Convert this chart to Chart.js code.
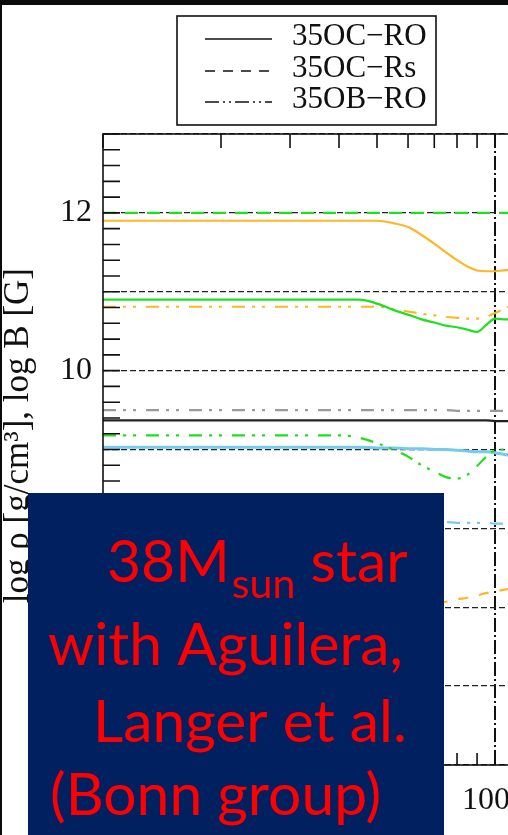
<!DOCTYPE html>
<html>
<head>
<meta charset="utf-8">
<script src="https://cdn.jsdelivr.net/npm/chart.js@4.4.0/dist/chart.umd.min.js"></script>
<style>
html, body { margin: 0; padding: 0; background: #0b0b0b; overflow: hidden; width: 508px; height: 835px; }
#wrap { position: absolute; left: 0; top: 0; width: 900px; height: 835px; }
</style>
</head>
<body>
<div id="wrap"><canvas id="chart" width="900" height="835"></canvas></div>
<script>
// x positions (log axis) shared by every curve
const xValues = [10, 20, 30, 40, 45, 50, 55, 60, 65, 70, 75, 80, 85, 90, 95, 100, 105, 110, 120];

// curves (log values)
const orangeSolid   = [11.9, 11.9, 11.9, 11.9, 11.9, 11.9, 11.87, 11.82, 11.72, 11.61, 11.5, 11.4, 11.32, 11.27, 11.26, 11.26, 11.27, 11.28, 11.3];
const greenDashed   = [12, 12, 12, 12, 12, 12, 12, 12, 12, 12, 12, 12, 12, 12, 12, 12, 12, 12, 12];
const greenSolid    = [10.9, 10.9, 10.9, 10.9, 10.9, 10.85, 10.77, 10.71, 10.65, 10.61, 10.57, 10.55, 10.52, 10.49, 10.58, 10.66, 10.65, 10.65, 10.65];
const orangeDashDot = [10.81, 10.81, 10.81, 10.81, 10.81, 10.81, 10.78, 10.75, 10.72, 10.7, 10.68, 10.67, 10.66, 10.66, 10.68, 10.73, 10.78, 10.82, 10.88];
const greyDashDot   = [9.5, 9.5, 9.5, 9.5, 9.5, 9.5, 9.5, 9.5, 9.5, 9.5, 9.5, 9.49, 9.49, 9.49, 9.49, 9.49, 9.49, 9.49, 9.49];
const blackSolid    = [9.37, 9.37, 9.37, 9.37, 9.37, 9.37, 9.37, 9.37, 9.37, 9.37, 9.37, 9.37, 9.37, 9.37, 9.37, 9.36, 9.36, 9.36, 9.36];
const greenDashDot  = [9.18, 9.18, 9.18, 9.18, 9.15, 9.08, 9.0, 8.91, 8.8, 8.72, 8.65, 8.63, 8.68, 8.79, 8.91, 8.99, 9.0, 9.0, 9.0];
const blueSolid     = [9.03, 9.03, 9.03, 9.03, 9.03, 9.02, 9.02, 9.01, 9.01, 9.0, 9.0, 8.99, 8.98, 8.97, 8.97, 8.96, 8.94, 8.92, 8.9];
const blueDashDot   = [8.08, 8.08, 8.08, 8.08, 8.08, 8.08, 8.08, 8.08, 8.08, 8.08, 8.08, 8.07, 8.07, 8.07, 8.07, 8.06, 8.06, 8.06, 8.06];
const orangeDashed  = [6.7, 6.8, 6.85, 6.9, 6.93, 6.96, 6.98, 7.0, 7.02, 7.04, 7.07, 7.1, 7.12, 7.15, 7.18, 7.2, 7.22, 7.24, 7.28];

// legend (line styles only)
const legendLabels = ['35OC\u2212RO', '35OC\u2212Rs', '35OB\u2212RO'];
const legendDashes = [[], [10, 8], [14, 4, 2, 4, 2, 4]];

// tick labels and axis title
const yLabels = [6, 8, 10, 12];
const xLabels = [10, 100];
const xGridAt = [100];
const yTitle = 'log \u03c1 [g/cm\u00b3], log B [G]';

const GREEN = '#1fe01f';
const ORANGE = '#ffb526';
const BLUE = '#74cbef';
const DDD = [13, 7, 3, 7, 3, 10];

function pts(series) {
    return xValues.map((x, i) => ({ x: x, y: series[i] }));
}

function line(label, series, color, dash, width) {
    return {
        label: label,
        data: pts(series),
        borderColor: color,
        borderWidth: width || 2.2,
        borderDash: dash || [],
        pointRadius: 0,
        cubicInterpolationMode: 'monotone',
        fill: false
    };
}

const serif = 'Liberation Serif';

// frame, inward ticks, axis title, legend box, overlay text box
const decorPlugin = {
    id: 'decor',
    beforeDraw(chart) {
        const ctx = chart.ctx;
        ctx.save();
        ctx.fillStyle = '#0b0b0b';
        ctx.fillRect(0, 0, chart.width, chart.height);
        ctx.fillStyle = '#ffffff';
        ctx.fillRect(2, 5, chart.width - 2, chart.height - 5);
        ctx.restore();
    },
    afterDraw(chart) {
        const ctx = chart.ctx;
        const a = chart.chartArea;
        const x = chart.scales.x;
        const y = chart.scales.y;
        ctx.save();

        // plot frame + inward ticks
        ctx.strokeStyle = '#111';
        ctx.lineWidth = 1.6;
        ctx.strokeRect(a.left, a.top, a.right - a.left, a.bottom - a.top);
        ctx.beginPath();
        y.ticks.forEach(t => {
            const py = y.getPixelForValue(t.value);
            ctx.moveTo(a.left, py);
            ctx.lineTo(a.left + 17, py);
        });
        x.ticks.forEach(t => {
            const px = x.getPixelForValue(t.value);
            ctx.moveTo(px, a.top);
            ctx.lineTo(px, a.top + 14);
            ctx.moveTo(px, a.bottom);
            ctx.lineTo(px, a.bottom - 12);
        });
        ctx.stroke();

        // y axis title (rotated)
        ctx.font = '35px "' + serif + '"';
        ctx.fillStyle = '#111';
        const tw = ctx.measureText(yTitle).width;
        ctx.save();
        ctx.translate(19, 268 + tw / 2);
        ctx.rotate(-Math.PI / 2);
        ctx.textAlign = 'center';
        ctx.textBaseline = 'middle';
        ctx.fillText(yTitle, 0, 0);
        ctx.restore();

        // legend
        ctx.fillStyle = '#fff';
        ctx.fillRect(177, 16, 259, 109);
        ctx.strokeRect(177, 16, 259, 109);
        ctx.font = '31px "' + serif + '"';
        ctx.fillStyle = '#111';
        ctx.textBaseline = 'alphabetic';
        const rowBase = [45, 77, 108];
        legendLabels.forEach((lab, i) => {
            ctx.setLineDash(legendDashes[i]);
            ctx.lineWidth = 1.5;
            ctx.beginPath();
            ctx.moveTo(205, rowBase[i] - 6);
            ctx.lineTo(272, rowBase[i] - 6);
            ctx.stroke();
            ctx.fillText(lab, 292, rowBase[i]);
        });
        ctx.setLineDash([]);

        // overlay box
        ctx.fillStyle = '#002060';
        ctx.fillRect(28, 493, 416, 342);
        ctx.font = '100px Lato';
        const fs = 100 * 355 / ctx.measureText('with Aguilera,').width;
        const main = fs + 'px Lato';
        const sub = (fs * 0.7) + 'px Lato';
        ctx.fillStyle = '#ff0000';
        ctx.font = main;
        ctx.fillText('38M', 107, 582);
        let cx = 107 + ctx.measureText('38M').width + 2;
        ctx.font = sub;
        ctx.fillText('sun', cx, 598);
        cx += ctx.measureText('sun').width;
        ctx.font = main;
        ctx.fillText(' star', cx, 582);
        ctx.fillText('with Aguilera,', 48, 665);
        ctx.fillText('Langer et al.', 93, 742);
        ctx.fillText('(Bonn group)', 50, 815);
        ctx.restore();
    }
};

new Chart(document.getElementById('chart').getContext('2d'), {
    type: 'line',
    data: {
        datasets: [
            line('orange solid', orangeSolid, ORANGE),
            line('green dashed', greenDashed, GREEN, [13, 9]),
            line('green solid', greenSolid, GREEN),
            line('orange dash-dot', orangeDashDot, ORANGE, DDD),
            line('grey dash-dot', greyDashDot, '#9a9a9a', DDD),
            line('black solid', blackSolid, '#222'),
            line('green dash-dot', greenDashDot, GREEN, DDD),
            line('blue solid', blueSolid, BLUE, [], 3),
            line('blue dash-dot', blueDashDot, BLUE, DDD),
            line('orange dashed', orangeDashed, ORANGE, [10, 11])
        ]
    },
    options: {
        responsive: false,
        animation: false,
        layout: { padding: { left: 0, top: 134, right: 13, bottom: 0 } },
        plugins: {
            legend: { display: false },
            tooltip: { enabled: false }
        },
        scales: {
            x: {
                type: 'logarithmic',
                min: 10,
                max: 1000,
                afterFit: s => { s.height = 70; s.paddingLeft = 0; s.paddingRight = 0; },
                grid: {
                    color: c => (c.tick && xGridAt.some(v => Math.abs(c.tick.value - v) < 1e-6)) ? '#111' : 'rgba(0,0,0,0)',
                    lineWidth: 2,
                    drawTicks: false
                },
                border: { display: false, dash: [14, 3, 2, 3] },
                ticks: {
                    autoSkip: false,
                    maxRotation: 0,
                    padding: 16,
                    labelOffset: -9,
                    color: '#111',
                    font: { family: serif, size: 32 },
                    callback: v => xLabels.some(l => Math.abs(v - l) < 1e-6) ? String(Math.round(v)) : ''
                }
            },
            y: {
                min: 5,
                max: 13,
                afterFit: s => { s.width = 103; },
                grid: {
                    color: c => (c.tick && Math.abs(c.tick.value - Math.round(c.tick.value)) < 1e-6) ? '#222' : 'rgba(0,0,0,0)',
                    lineWidth: 1.3,
                    drawTicks: false
                },
                border: { display: false, dash: [6, 3] },
                ticks: {
                    stepSize: 0.2,
                    maxTicksLimit: 100,
                    autoSkip: false,
                    padding: 11,
                    color: '#111',
                    font: { family: serif, size: 32 },
                    callback: v => yLabels.some(l => Math.abs(v - l) < 1e-6) ? String(Math.round(v)) : ''
                }
            }
        }
    },
    plugins: [decorPlugin]
});
</script>
</body>
</html>
